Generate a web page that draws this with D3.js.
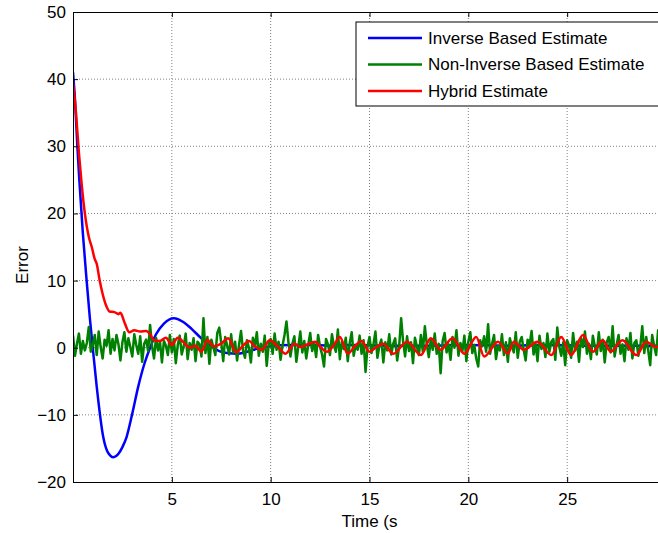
<!DOCTYPE html>
<html>
<head>
<meta charset="utf-8">
<script src="https://cdn.jsdelivr.net/npm/d3@7"></script>
<style>
  body { margin: 0; background: #fff; }
  svg { display: block; font-family: "Liberation Sans", Arial, sans-serif; }
</style>
</head>
<body>
<script>
// inverse based estimate (time, error)
var inverseT = [0, 0.1, 0.22, 0.32, 0.5, 0.69, 0.85, 1.0, 1.2, 1.53, 1.75, 2.05, 2.3, 2.5, 2.71, 3.0, 3.3, 3.6, 3.9, 4.2, 4.6, 5.1, 5.6, 6.0, 6.42, 6.9, 7.4, 7.8, 8.3, 8.8, 9.4, 10, 11, 12, 13, 14, 16, 18, 20, 22, 24, 26, 28, 30];
var inverseE = [41, 37, 30, 25, 17, 10, 4.5, 0, -5.8, -13.3, -15.5, -16.3, -15.8, -14.8, -13.3, -9.8, -5.8, -2.5, 0, 2.0, 3.6, 4.4, 3.8, 2.8, 1.6, 0.4, -0.5, -0.8, -0.9, -0.6, -0.1, 0.2, 0.4, 0.4, 0.3, 0.4, 0.3, 0.3, 0.4, 0.3, 0.4, 0.3, 0.3, 0.3];

// hybrid estimate
var hybridT = [0, 0.15, 0.3, 0.45, 0.6, 0.8, 0.95, 1.1, 1.2, 1.35, 1.5, 1.7, 1.85, 2.1, 2.3, 2.4, 2.6, 2.85, 3.1, 3.4, 3.7, 3.9, 4.1, 4.4, 4.7, 5.0, 5.3, 5.6, 5.9, 6.2, 6.5, 6.8, 7.1, 7.5, 7.85, 8.25, 8.6, 8.9, 9.2, 9.55, 9.95, 10.35, 10.75, 11.2, 11.5, 11.8, 12.25, 12.55, 12.85, 13.2, 13.5, 13.9, 14.25, 14.6, 15.0, 15.35, 15.7, 16.2, 16.9, 17.6, 18.1, 18.6, 19.2, 19.8, 20.4, 20.8, 21.5, 22.0, 22.3, 22.8, 23.5, 24.2, 24.7, 25.2, 25.8, 26.3, 26.8, 27.2, 27.8, 28.5, 29.0, 29.4, 30];
var hybridE = [39.5, 35, 29, 24, 20, 16.5, 15, 13.2, 12.5, 10, 8, 6.1, 5.4, 5.3, 5.0, 5.2, 3.8, 2.3, 2.6, 2.4, 2.5, 2.0, 1.1, 1.0, 1.5, 0.4, 1.5, 0.8, 0.0, 0.3, -0.6, 1.2, 0.2, 0.6, 1.4, -0.7, 0.3, 1.0, 0.2, -0.3, 1.1, 0.2, -0.9, 0.6, 0.1, 0.4, 0.9, 0.0, -0.6, 0.4, 1.6, -0.9, 0.2, 1.0, -0.6, 0.1, 0.6, -0.9, 0.9, -1.1, 1.4, -0.3, 1.4, -0.9, 1.6, -1.3, 0.9, -0.9, 0.9, -0.3, 0.9, -1.1, 1.6, -1.1, 1.9, -0.6, 1.1, -0.6, 1.1, -1.1, 0.9, 0.2, 0.0];

// non-inverse based estimate, sampled every 0.1 s
var greenStep = 0.1;
var nonInverseE = [
  1.8, -1.2, 0.6, 2.1, -0.9, 1.0, -0.4, 0.7, 3.1, -0.6,
  0.4, 1.9, -1.1, 2.4, 0.1, -1.6, 1.2, 0.3, 2.6, -0.9,
  1.3, -0.4, 1.9, 0.5, -1.9, 0.8, 2.3, -0.6, 1.4, 0.1,
  -1.3, 2.0, 0.4, -0.9, 1.7, -2.1, 0.6, 1.2, -0.5, 3.4,
  0.2, -1.6, 1.5, -0.4, 0.9, -2.2, 1.0, 0.3, -1.1, 1.9,
  -0.7, 1.3, -2.3, 0.4, 1.8, -1.0, 0.2, 2.1, -1.7, 0.7,
  -0.3, 1.4, -2.0, 0.9, 0.5, -1.3, 4.4, -0.8, 1.6, -2.4,
  1.2, 0.1, -1.1, 2.2, 3.0, 0.7, -2.0, 1.6, 0.3, -1.0,
  2.0, -0.7, 0.9, -1.9, 0.4, 2.5, -0.4, -1.5, 1.1, 0.0,
  -2.2, 1.5, 0.2, 2.3, -1.2, 0.6, -0.6, 1.8, -2.7, 0.5,
  1.3, -0.9, 2.1, -0.3, 0.9, -1.8, 0.3, 1.9, 3.9, 0.8,
  -1.3, 0.6, 1.7, -2.1, 0.2, 2.4, -0.7, 1.0, -1.6, 0.4,
  2.2, -0.5, 0.8, -1.4, 1.9, 0.1, -1.0, -2.8, 1.3, 0.5,
  -1.1, 2.0, 0.3, -0.6, 2.7, -1.7, 0.9, -0.2, 1.5, -2.0,
  0.7, 2.3, -1.2, 0.4, -0.3, 1.8, -0.9, 1.1, -3.6, 0.2,
  1.6, -0.8, 0.5, 2.4, -1.5, 0.3, 1.2, -2.2, 0.8, -0.4,
  2.0, -1.0, 0.6, 1.4, -1.9, 0.2, 4.4, 0.9, -1.3, 1.7,
  -0.5, 0.8, -2.3, 1.5, 0.1, -1.1, 1.9, -0.6, 3.2, 0.4,
  -1.4, 1.2, -0.3, 2.1, -0.9, 0.6, -3.8, 1.0, 2.2, -0.7,
  0.5, -1.8, 1.6, 0.0, 2.6, -1.2, 0.7, -0.5, 1.8, -2.0,
  0.9, 2.3, -0.8, 0.4, -1.6, -2.8, 1.1, 0.2, 1.7, -0.6,
  3.5, -0.9, 0.6, 1.9, -1.7, 0.3, -0.4, 2.0, -1.1, 0.8,
  -2.1, 1.4, 0.2, -0.7, 2.3, -1.5, 0.9, 1.6, -0.3, -1.9,
  1.2, 0.4, 2.5, -1.0, 0.6, -2.0, 1.8, -0.2, 0.7, -1.4,
  2.1, -0.6, 0.9, 1.3, -1.8, 3.0, 0.2, -1.2, 0.8, -2.6,
  1.1, 0.3, -1.5, 2.2, -0.4, 0.9, -2.1, 1.5, 0.1, 2.4,
  -0.9, 0.6, -1.7, 1.8, 0.2, -1.0, 2.3, -0.5, 1.2, -2.2,
  0.8, 1.6, -0.7, 3.2, -1.3, 0.4, 1.9, -0.9, 0.5, -2.0,
  1.4, -0.3, 2.2, -1.6, 0.7, 1.1, -1.2, 0.2, 3.2, -0.8,
  1.6, -0.4, -2.6, 1.9, 0.3, -1.1, 2.6, 0.5, -1.5, 1.0
];

var xTicks = [5, 10, 15, 20, 25];
var yTicks = [-20, -10, 0, 10, 20, 30, 40, 50];
var seriesNames = ["Inverse Based Estimate", "Non-Inverse Based Estimate", "Hybrid Estimate"];
var seriesColors = ["#0000ff", "#008000", "#ff0000"];

var fontSize = 17;

var svg = d3.select("body").append("svg")
    .attr("width", 658)
    .attr("height", 533);

var margin = {top: 12, left: 73},
    width = 593,
    height = 470;

var x = d3.scaleLinear().domain([0, 30]).range([0, width]);
var y = d3.scaleLinear().domain([-20, 50]).range([height, 0]);

var g = svg.append("g").attr("transform", "translate(" + margin.left + "," + margin.top + ")");

g.append("clipPath").attr("id", "clip")
  .append("rect").attr("width", width).attr("height", height);

// grid
g.selectAll(".gx").data(xTicks).enter().append("line")
    .attr("x1", function(d) { return x(d); })
    .attr("x2", function(d) { return x(d); })
    .attr("y1", 0).attr("y2", height)
    .attr("stroke", "#808080").attr("stroke-width", 1)
    .attr("stroke-dasharray", "1,2");
g.selectAll(".gy").data(yTicks.slice(1, -1)).enter().append("line")
    .attr("x1", 0).attr("x2", width)
    .attr("y1", function(d) { return y(d); })
    .attr("y2", function(d) { return y(d); })
    .attr("stroke", "#808080").attr("stroke-width", 1)
    .attr("stroke-dasharray", "1,2");

// lines
var line = d3.line()
    .x(function(d) { return x(d[0]); })
    .y(function(d) { return y(d[1]); });

var inverseData = inverseT.map(function(t, i) { return [t, inverseE[i]]; });
var hybridData = hybridT.map(function(t, i) { return [t, hybridE[i]]; });
var nonInverseData = nonInverseE.map(function(v, i) { return [i * greenStep, v]; });

var lines = g.append("g").attr("clip-path", "url(#clip)");
lines.append("path").datum(inverseData)
    .attr("fill", "none").attr("stroke", seriesColors[0]).attr("stroke-width", 2.5)
    .attr("stroke-linejoin", "round")
    .attr("d", line.curve(d3.curveMonotoneX));
lines.append("path").datum(nonInverseData)
    .attr("fill", "none").attr("stroke", seriesColors[1]).attr("stroke-width", 2.5)
    .attr("stroke-linejoin", "round")
    .attr("d", line.curve(d3.curveLinear));
lines.append("path").datum(hybridData)
    .attr("fill", "none").attr("stroke", seriesColors[2]).attr("stroke-width", 2.5)
    .attr("stroke-linejoin", "round")
    .attr("d", line.curve(d3.curveMonotoneX));

// axes
g.append("g")
    .attr("transform", "translate(0," + height + ")")
    .call(d3.axisBottom(x).tickValues(xTicks).tickSize(-5).tickPadding(11).tickFormat(d3.format("d")))
    .call(function(a) {
      a.select(".domain").attr("stroke", "#000");
      a.selectAll("text").attr("font-size", fontSize).attr("font-family", "Liberation Sans, Arial, sans-serif").attr("fill", "#000");
    });
g.append("g")
    .call(d3.axisTop(x).tickValues(xTicks).tickSize(-5).tickFormat(""))
    .call(function(a) { a.select(".domain").attr("stroke", "#000"); });
g.append("g")
    .call(d3.axisLeft(y).tickValues(yTicks).tickSize(-5).tickPadding(7).tickFormat(d3.format("d")))
    .call(function(a) {
      a.select(".domain").attr("stroke", "#000");
      a.selectAll("text").attr("font-size", fontSize).attr("font-family", "Liberation Sans, Arial, sans-serif").attr("fill", "#000");
    });

svg.append("text")
    .attr("x", margin.left + x(15)).attr("y", 527)
    .attr("text-anchor", "middle").attr("font-size", fontSize)
    .text("Time (s");
svg.append("text")
    .attr("transform", "translate(28,265) rotate(-90)")
    .attr("text-anchor", "middle").attr("font-size", fontSize)
    .text("Error");

// legend
var legend = svg.append("g").attr("transform", "translate(356,22)");
legend.append("rect")
    .attr("width", 320).attr("height", 84)
    .attr("fill", "#fff").attr("stroke", "#000").attr("stroke-width", 1);
var rows = legend.selectAll(".row").data(seriesNames).enter().append("g")
    .attr("transform", function(d, i) { return "translate(0," + (16 + i * 26.5) + ")"; });
rows.append("line")
    .attr("x1", 12).attr("x2", 66)
    .attr("stroke", function(d, i) { return seriesColors[i]; })
    .attr("stroke-width", 2.5);
rows.append("text")
    .attr("x", 72).attr("dy", "0.35em")
    .attr("font-size", fontSize)
    .text(function(d) { return d; });
</script>
</body>
</html>
